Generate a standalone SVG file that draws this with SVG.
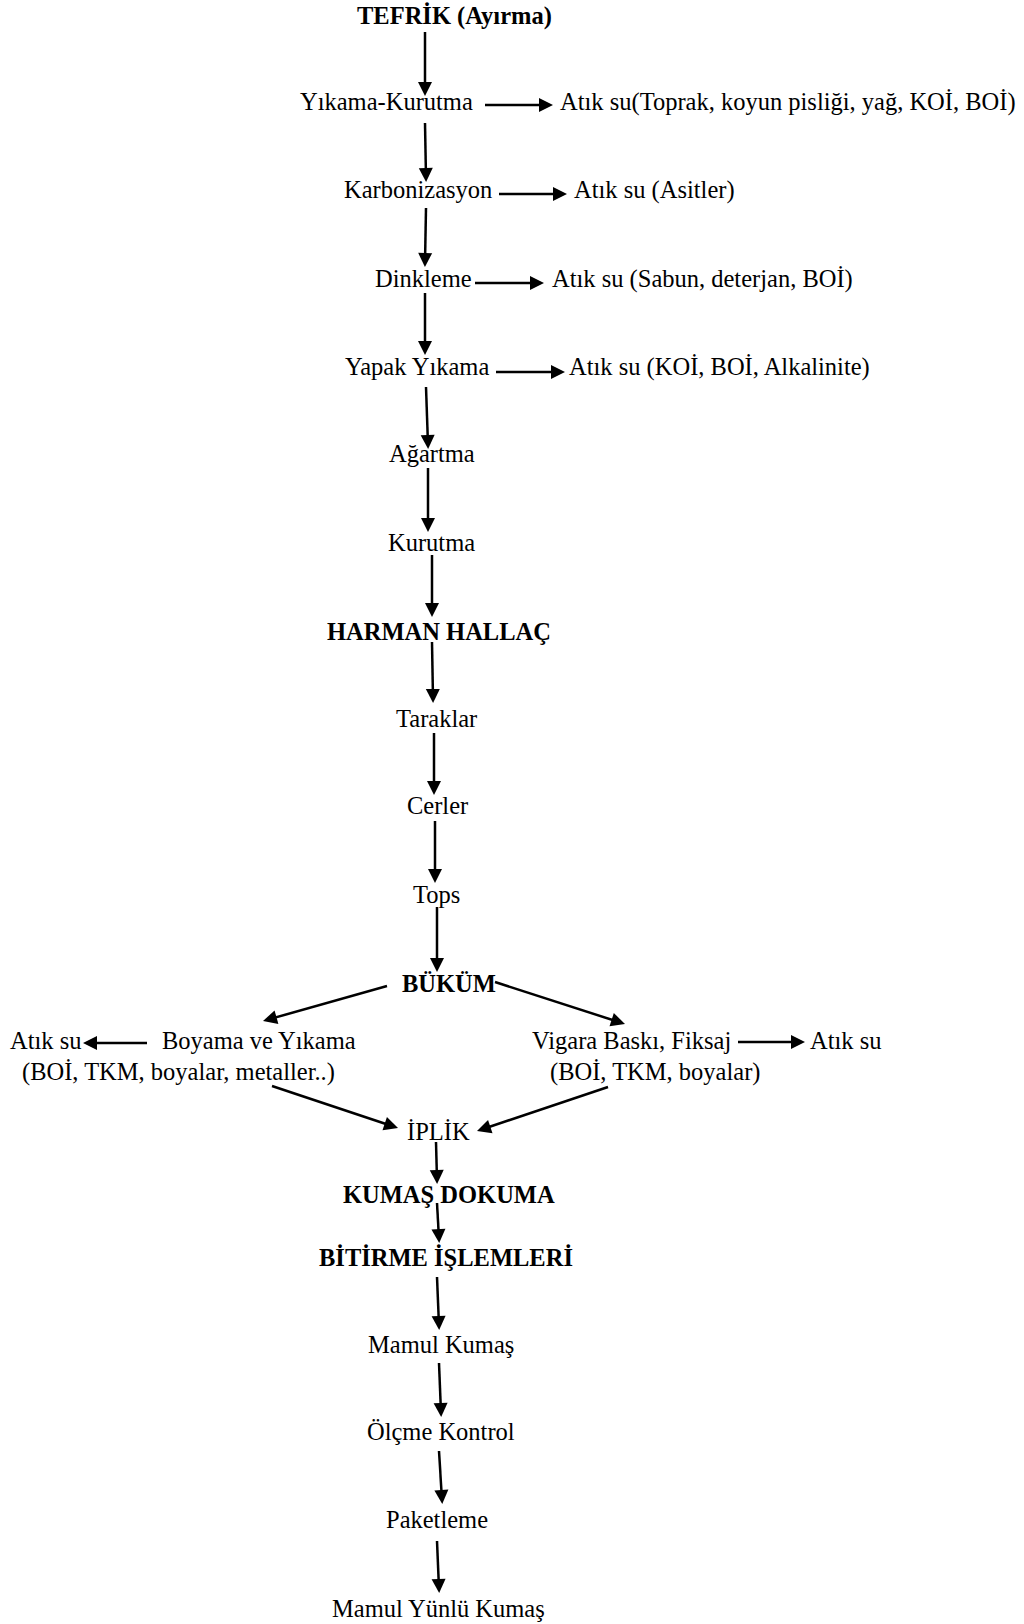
<svg xmlns="http://www.w3.org/2000/svg" width="1024" height="1624" viewBox="0 0 1024 1624">
  <style>
    text { font-family: "Liberation Serif", "Times New Roman", serif; font-size: 24.5px; fill: #000; }
    .b { font-weight: bold; }
    .c { stroke: #000; stroke-width: 2.5; fill: none; marker-end: url(#ah); }
  </style>
  <defs>
    <!-- filled arrowhead; the tip sits 4px past the line end -->
    <marker id="ah" markerUnits="userSpaceOnUse" markerWidth="14" markerHeight="14" refX="10" refY="7" orient="auto" overflow="visible">
      <path d="M0,0 L14,7 L0,14 Z" fill="#000"/>
    </marker>
  </defs>
  <rect width="1024" height="1624" fill="#fff"/>

  <!-- process steps -->
  <g id="n-tefrik"><text class="b" x="357" y="24">TEFRİK (Ayırma)</text></g>
  <g id="n-yikama-kurutma"><text x="300" y="110">Yıkama-Kurutma</text></g>
  <g id="w-yikama-kurutma"><text x="560" y="110">Atık su(Toprak, koyun pisliği, yağ, KOİ, BOİ)</text></g>
  <g id="n-karbonizasyon"><text x="344" y="198">Karbonizasyon</text></g>
  <g id="w-karbonizasyon"><text x="574" y="198">Atık su (Asitler)</text></g>
  <g id="n-dinkleme"><text x="375" y="287">Dinkleme</text></g>
  <g id="w-dinkleme"><text x="552" y="287">Atık su (Sabun, deterjan, BOİ)</text></g>
  <g id="n-yapak-yikama"><text x="345" y="375">Yapak Yıkama</text></g>
  <g id="w-yapak-yikama"><text x="569" y="375">Atık su (KOİ, BOİ, Alkalinite)</text></g>
  <g id="n-agartma"><text x="389" y="462">Ağartma</text></g>
  <g id="n-kurutma"><text x="388" y="551">Kurutma</text></g>
  <g id="n-harman"><text class="b" x="327" y="640">HARMAN HALLAÇ</text></g>
  <g id="n-taraklar"><text x="396" y="727">Taraklar</text></g>
  <g id="n-cerler"><text x="407" y="814">Cerler</text></g>
  <g id="n-tops"><text x="413" y="903">Tops</text></g>
  <g id="n-bukum"><text class="b" x="402" y="992">BÜKÜM</text></g>
  <g id="w-boyama"><text x="10" y="1049">Atık su</text></g>
  <g id="n-boyama">
    <text x="162" y="1049">Boyama ve Yıkama</text>
    <text x="22" y="1080">(BOİ, TKM, boyalar, metaller..)</text>
  </g>
  <g id="n-vigara">
    <text x="532" y="1049">Vigara Baskı, Fiksaj</text>
    <text x="550" y="1080">(BOİ, TKM, boyalar)</text>
  </g>
  <g id="w-vigara"><text x="810" y="1049">Atık su</text></g>
  <g id="n-iplik"><text x="407" y="1140">İPLİK</text></g>
  <g id="n-kumas-dokuma"><text class="b" x="343" y="1203">KUMAŞ DOKUMA</text></g>
  <g id="n-bitirme"><text class="b" x="319" y="1266">BİTİRME İŞLEMLERİ</text></g>
  <g id="n-mamul-kumas"><text x="368" y="1353">Mamul Kumaş</text></g>
  <g id="n-olcme"><text x="367" y="1440">Ölçme Kontrol</text></g>
  <g id="n-paketleme"><text x="386" y="1528">Paketleme</text></g>
  <g id="n-mamul-yunlu"><text x="332" y="1617">Mamul Yünlü Kumaş</text></g>

  <!-- connectors -->
  <g id="connectors">
    <line class="c" x1="425" y1="32" x2="425" y2="92"/>
    <line class="c" x1="485" y1="105" x2="549" y2="105"/>
    <line class="c" x1="425" y1="123" x2="426" y2="178"/>
    <line class="c" x1="499" y1="194" x2="563" y2="194"/>
    <line class="c" x1="426" y1="208" x2="425" y2="263"/>
    <line class="c" x1="475" y1="283" x2="540" y2="283"/>
    <line class="c" x1="425" y1="293" x2="425" y2="351"/>
    <line class="c" x1="496" y1="372" x2="561" y2="372"/>
    <line class="c" x1="426" y1="387" x2="428" y2="445"/>
    <line class="c" x1="428" y1="468" x2="428" y2="528"/>
    <line class="c" x1="432" y1="555" x2="432" y2="613"/>
    <line class="c" x1="432" y1="642" x2="433" y2="699"/>
    <line class="c" x1="434" y1="733" x2="434" y2="791"/>
    <line class="c" x1="435" y1="821" x2="435" y2="879"/>
    <line class="c" x1="437" y1="907" x2="437" y2="968"/>
    <line class="c" x1="387" y1="986" x2="266.85" y2="1019.91"/>
    <line class="c" x1="495" y1="982" x2="621.19" y2="1022.77"/>
    <line class="c" x1="147" y1="1043" x2="87" y2="1043"/>
    <line class="c" x1="738" y1="1042" x2="801" y2="1042"/>
    <line class="c" x1="272" y1="1086" x2="394.21" y2="1126.74"/>
    <line class="c" x1="608" y1="1087" x2="480.79" y2="1129.73"/>
    <line class="c" x1="436" y1="1142" x2="437" y2="1180"/>
    <line class="c" x1="437" y1="1203" x2="439" y2="1239"/>
    <line class="c" x1="437" y1="1277" x2="439" y2="1326"/>
    <line class="c" x1="439" y1="1363" x2="441" y2="1413"/>
    <line class="c" x1="439" y1="1451" x2="442" y2="1500"/>
    <line class="c" x1="437" y1="1541" x2="439" y2="1589"/>
  </g>
</svg>
